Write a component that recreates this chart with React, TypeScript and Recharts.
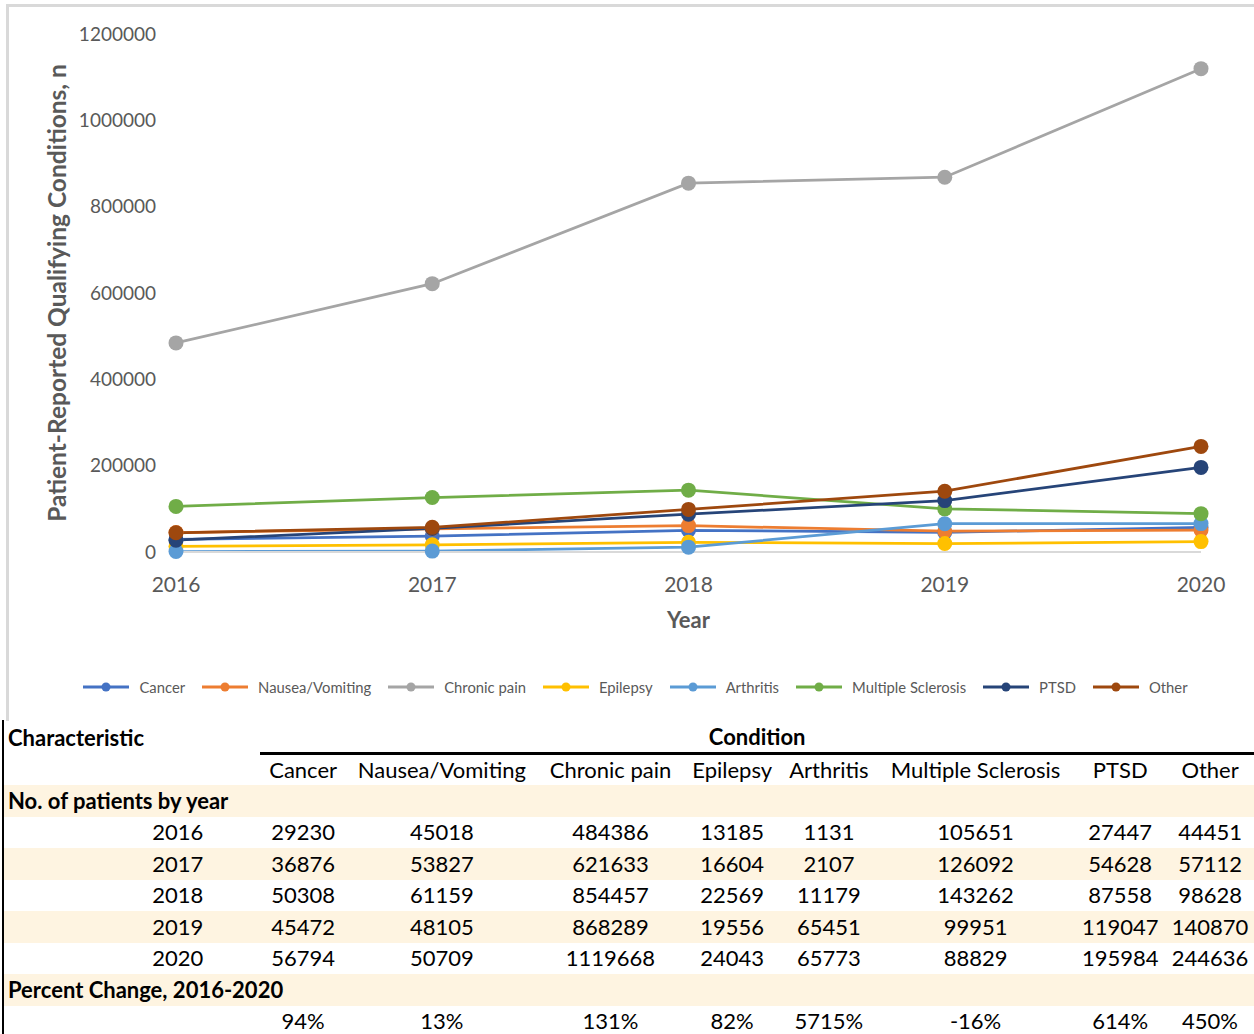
import { Label, Line, LineChart, XAxis, YAxis } from "recharts";

const YEARS = [2016, 2017, 2018, 2019, 2020];

const CANCER = [29230, 36876, 50308, 45472, 56794];
const NAUSEA = [45018, 53827, 61159, 48105, 50709];
const CHRONIC_PAIN = [484386, 621633, 854457, 868289, 1119668];
const EPILEPSY = [13185, 16604, 22569, 19556, 24043];
const ARTHRITIS = [1131, 2107, 11179, 65451, 65773];
const MULTIPLE_SCLEROSIS = [105651, 126092, 143262, 99951, 88829];
const PTSD = [27447, 54628, 87558, 119047, 195984];
const OTHER = [44451, 57112, 98628, 140870, 244636];

const PERCENT_CHANGE = ["94%", "13%", "131%", "82%", "5715%", "-16%", "614%", "450%"];
const Y_TICKS = [0, 200000, 400000, 600000, 800000, 1000000, 1200000];

const SERIES = [
  { key: "cancer", name: "Cancer", color: "#4472C4", values: CANCER },
  { key: "nausea", name: "Nausea/Vomiting", color: "#ED7D31", values: NAUSEA },
  { key: "chronic", name: "Chronic pain", color: "#A5A5A5", values: CHRONIC_PAIN },
  { key: "epilepsy", name: "Epilepsy", color: "#FFC000", values: EPILEPSY },
  { key: "arthritis", name: "Arthritis", color: "#5B9BD5", values: ARTHRITIS },
  { key: "ms", name: "Multiple Sclerosis", color: "#70AD47", values: MULTIPLE_SCLEROSIS },
  { key: "ptsd", name: "PTSD", color: "#264478", values: PTSD },
  { key: "other", name: "Other", color: "#9E480E", values: OTHER },
];

const data = YEARS.map((year, i) => {
  const row: Record<string, number> = { year };
  SERIES.forEach((s) => (row[s.key] = s.values[i]));
  return row;
});

const FONT = "Lato, 'Open Sans', sans-serif";
const GREY = "#595959";
const SHADE = "#FEF4E1";
const COL_WIDTHS = [258, 86, 192, 146, 98, 96, 198, 92, 88];
const ROW_H = 31.5;

const cell = { padding: 0, lineHeight: "1", textAlign: "center" as const, whiteSpace: "nowrap" as const };

export default function App() {
  return (
    <div style={{ position: "fixed", left: 0, top: 0, width: 1254, height: 1034, overflow: "hidden", background: "#fff", fontFamily: FONT }}>
      <div style={{ position: "absolute", left: 6, top: 4, width: 1260, height: 714, borderTop: "3px solid #D9D9D9", borderLeft: "3px solid #D9D9D9" }} />
      <div style={{ position: "absolute", left: 0, top: 0 }}>
        <LineChart width={1254} height={715} data={data} margin={{ top: 34, right: 53, left: 40, bottom: 83 }}>
          <XAxis
            dataKey="year"
            type="number"
            domain={[2016, 2020]}
            ticks={YEARS}
            tickLine={false}
            axisLine={{ stroke: "#D9D9D9", strokeWidth: 2 }}
            tick={{ fill: GREY, fontSize: 21, fontFamily: FONT }}
            tickMargin={19}
            height={80}
          >
            <Label value="Year" position="insideBottom" offset={4} style={{ fill: GREY, fontSize: 22, fontWeight: 700, fontFamily: FONT }} />
          </XAxis>
          <YAxis
            type="number"
            domain={[0, 1200000]}
            ticks={Y_TICKS}
            tickLine={false}
            axisLine={false}
            tick={{ fill: GREY, fontSize: 19, fontFamily: FONT }}
            tickMargin={14}
            width={136}
          >
            <Label
              value="Patient-Reported Qualifying Conditions, n"
              angle={-90}
              position="insideLeft"
              offset={17}
              style={{ textAnchor: "middle", fill: GREY, fontSize: 24.5, fontWeight: 700, fontFamily: FONT }}
            />
          </YAxis>
          {SERIES.map((s) => (
            <Line
              key={s.key}
              dataKey={s.key}
              name={s.name}
              type="linear"
              stroke={s.color}
              strokeWidth={2.75}
              dot={{ r: 7.5, fill: s.color, stroke: s.color, strokeWidth: 0 }}
              isAnimationActive={false}
            />
          ))}
        </LineChart>
      </div>

      <div style={{ position: "absolute", left: 0, width: 1254, top: 678, display: "flex", justifyContent: "center", gap: 16, paddingLeft: 16, boxSizing: "border-box", fontSize: 14.8, color: GREY }}>
        {SERIES.map((s) => (
          <span key={s.key} style={{ display: "inline-flex", alignItems: "center", gap: 9 }}>
            <svg width={48} height={12}>
              <line x1={1} x2={47} y1={6} y2={6} stroke={s.color} strokeWidth={3} />
              <circle cx={24} cy={6} r={4.5} fill={s.color} />
            </svg>
            {s.name}
          </span>
        ))}
      </div>

      <div style={{ position: "absolute", left: 2, top: 720, width: 2, height: 320, background: "#000" }} />
      <table
        style={{ position: "absolute", left: 4, top: 722, borderCollapse: "collapse", tableLayout: "fixed", fontSize: 22, color: "#000", fontFamily: FONT }}
      >
        <colgroup>
          {COL_WIDTHS.map((w, i) => (
            <col key={i} style={{ width: w }} />
          ))}
        </colgroup>
        <tbody>
          <tr style={{ height: ROW_H }}>
            <td style={{ ...cell, textAlign: "left", fontWeight: 700, paddingLeft: 4 }}>Characteristic</td>
            <td colSpan={8} style={{ ...cell, fontWeight: 700, borderBottom: "3px solid #000" }}>
              Condition
            </td>
          </tr>
          <tr style={{ height: ROW_H }}>
            <td style={cell} />
            {SERIES.map((s) => (
              <td key={s.key} style={cell}>
                {s.name}
              </td>
            ))}
          </tr>
          <tr style={{ height: ROW_H, background: SHADE }}>
            <td colSpan={9} style={{ ...cell, textAlign: "left", fontWeight: 700, paddingLeft: 4 }}>
              No. of patients by year
            </td>
          </tr>
          {YEARS.map((y, i) => (
            <tr key={y} style={{ height: ROW_H, background: i % 2 === 1 ? SHADE : "#fff" }}>
              <td style={{ ...cell, textAlign: "right", paddingRight: 57 }}>{y}</td>
              {SERIES.map((s) => (
                <td key={s.key} style={cell}>
                  {s.values[i]}
                </td>
              ))}
            </tr>
          ))}
          <tr style={{ height: ROW_H, background: SHADE }}>
            <td colSpan={9} style={{ ...cell, textAlign: "left", fontWeight: 700, paddingLeft: 4 }}>
              Percent Change, 2016-2020
            </td>
          </tr>
          <tr style={{ height: ROW_H }}>
            <td style={cell} />
            {PERCENT_CHANGE.map((p, i) => (
              <td key={i} style={cell}>
                {p}
              </td>
            ))}
          </tr>
        </tbody>
      </table>
    </div>
  );
}
